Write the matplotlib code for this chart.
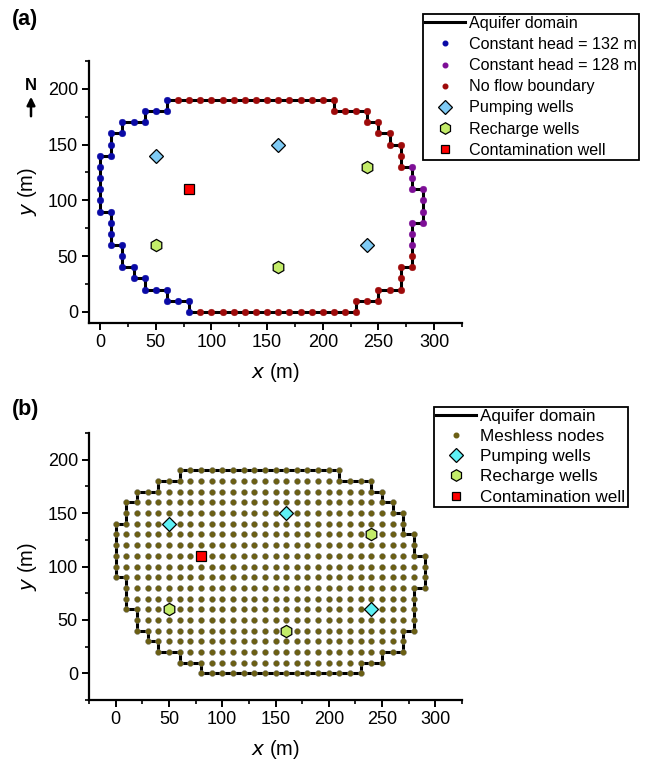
import numpy as np
import matplotlib
matplotlib.use('Agg')
import matplotlib.pyplot as plt
from matplotlib.lines import Line2D
from matplotlib.ticker import MultipleLocator

plt.rcParams['font.family'] = ['Liberation Sans', 'DejaVu Sans']

# ---------------- data ----------------
# boundary nodes, in order along the aquifer boundary
blue_x = [80, 80, 70, 60, 60, 50, 40, 40, 30, 30, 20, 20, 20, 10, 10, 10, 10, 0, 0, 0, 0, 0, 0,
          10, 10, 10, 20, 20, 30, 40, 40, 50, 60, 60]
blue_y = [0, 10, 10, 10, 20, 20, 20, 30, 30, 40, 40, 50, 60, 60, 70, 80, 90, 90, 100, 110, 120, 130, 140,
          140, 150, 160, 160, 170, 170, 170, 180, 180, 180, 190]
red_top_x = [70, 80, 90, 100, 110, 120, 130, 140, 150, 160, 170, 180, 190, 200, 210,
             210, 220, 230, 240, 240, 250, 250, 260, 260, 270, 270, 270]
red_top_y = [190, 190, 190, 190, 190, 190, 190, 190, 190, 190, 190, 190, 190, 190, 190,
             180, 180, 180, 180, 170, 170, 160, 160, 150, 150, 140, 130]
purple_x = [280, 280, 280, 290, 290, 290, 290, 280, 280, 280]
purple_y = [130, 120, 110, 110, 100, 90, 80, 80, 70, 60]
red_bot_x = [280, 280, 270, 270, 270, 260, 250, 250, 240, 230, 230,
             220, 210, 200, 190, 180, 170, 160, 150, 140, 130, 120, 110, 100, 90]
red_bot_y = [50, 40, 40, 30, 20, 20, 20, 10, 10, 10, 0,
             0, 0, 0, 0, 0, 0, 0, 0, 0, 0, 0, 0, 0, 0]

# meshless node rows: y level and x extent of each row (10 m spacing)
mesh_y = [0, 10, 20, 30, 40, 50, 60, 70, 80, 90, 100, 110, 120, 130, 140, 150, 160, 170, 180, 190]
mesh_xmin = [80, 60, 40, 30, 20, 20, 10, 10, 10, 0, 0, 0, 0, 0, 0, 10, 10, 20, 40, 60]
mesh_xmax = [230, 250, 270, 270, 280, 280, 280, 280, 290, 290, 290, 290, 280, 280, 270, 270, 260, 250, 240, 210]
mesh_step = 10

# wells
pump_x = [50, 160, 240]
pump_y = [140, 150, 60]
rech_x = [50, 160, 240]
rech_y = [60, 40, 130]
cont_x = [80]
cont_y = [110]

# ---------------- styles ----------------
C_BLUE = '#0a0aa6'
C_PURPLE = '#7d0e96'
C_RED = '#9e0a0a'
C_PUMP_A = '#7fcbf5'
C_PUMP_B = '#5ef0f5'
C_RECH = '#c3ec69'
C_CONT = '#ff0000'
C_NODE = '#6b5f14'

W, H = 645, 768
fig = plt.figure(figsize=(W / 100, H / 100), dpi=100)


def px_axes(l, t, r, b):
    return fig.add_axes([l / W, 1 - b / H, (r - l) / W, (b - t) / H])


def style_axes(ax, xlim, ylim):
    ax.set_xlim(*xlim)
    ax.set_ylim(*ylim)
    for s in ['top', 'right']:
        ax.spines[s].set_visible(False)
    for s in ['left', 'bottom']:
        ax.spines[s].set_linewidth(1.6)
    ax.xaxis.set_major_locator(MultipleLocator(50))
    ax.xaxis.set_minor_locator(MultipleLocator(25))
    ax.yaxis.set_major_locator(MultipleLocator(50))
    ax.yaxis.set_minor_locator(MultipleLocator(25))
    ax.tick_params(which='major', direction='out', length=5, width=1.4, labelsize=13, pad=3)
    ax.tick_params(which='minor', direction='out', length=3, width=1.2)
    ax.set_xlabel(r'$\mathit{x}$ (m)', fontsize=14.5, labelpad=7)
    ax.set_ylabel(r'$\mathit{y}$ (m)', fontsize=14.5, labelpad=6)


bx = blue_x + red_top_x + purple_x + red_bot_x + [blue_x[0]]
by = blue_y + red_top_y + purple_y + red_bot_y + [blue_y[0]]

LEG_KW = dict(loc='upper left', bbox_transform=fig.transFigure, frameon=True,
              fancybox=False, edgecolor='black', framealpha=1, borderpad=0.12,
              handletextpad=0.25, borderaxespad=0)

# ---------------- panel (a) ----------------
axa = px_axes(89, 61, 462, 323)
style_axes(axa, (-10, 325), (-10, 225))
axa.plot(bx, by, color='black', lw=2.2, zorder=2)
axa.plot(blue_x, blue_y, 'o', ms=4.8, color=C_BLUE, mec=C_BLUE, mew=0.3, ls='none', zorder=3)
axa.plot(purple_x, purple_y, 'o', ms=4.8, color=C_PURPLE, mec=C_PURPLE, mew=0.3, ls='none', zorder=3)
axa.plot(red_top_x + red_bot_x, red_top_y + red_bot_y, 'o', ms=4.8, color=C_RED, mec=C_RED,
         mew=0.3, ls='none', zorder=3)
axa.plot(pump_x, pump_y, 'D', ms=7.3, color=C_PUMP_A, mec='black', mew=0.9, ls='none', zorder=4)
axa.plot(rech_x, rech_y, 'h', ms=8.8, color=C_RECH, mec='black', mew=0.9, ls='none', zorder=4)
axa.plot(cont_x, cont_y, 's', ms=6.5, color=C_CONT, mec='black', mew=0.9, ls='none', zorder=4)

handles_a = [
    Line2D([], [], color='black', lw=2.2),
    Line2D([], [], marker='o', ls='none', ms=3.3, color=C_BLUE),
    Line2D([], [], marker='o', ls='none', ms=3.3, color=C_PURPLE),
    Line2D([], [], marker='o', ls='none', ms=3.3, color=C_RED),
    Line2D([], [], marker='D', ls='none', ms=6.8, color=C_PUMP_A, mec='black', mew=0.9),
    Line2D([], [], marker='h', ls='none', ms=8.3, color=C_RECH, mec='black', mew=0.9),
    Line2D([], [], marker='s', ls='none', ms=6.3, color=C_CONT, mec='black', mew=0.9),
]
labels_a = ['Aquifer domain', 'Constant head = 132 m', 'Constant head = 128 m',
            'No flow boundary', 'Pumping wells', 'Recharge wells', 'Contamination well']
leg_a = fig.legend(handles_a, labels_a, bbox_to_anchor=(423 / W, 1 - 14 / H), fontsize=11.6,
                   labelspacing=0.38, handlelength=2.5, **LEG_KW)
leg_a.get_frame().set_linewidth(1.3)

fig.text(12 / W, 1 - 20 / H, '(a)', fontsize=15.5, fontweight='bold', va='center', ha='left')
# north arrow
fig.text(31 / W, 1 - 86 / H, 'N', fontsize=12, fontweight='bold', ha='center', va='center')
fig.add_artist(matplotlib.patches.FancyArrowPatch((31 / W, 1 - 119 / H), (31 / W, 1 - 94 / H),
                                                  transform=fig.transFigure, arrowstyle='-|>',
                                                  mutation_scale=12, lw=1.8, color='black'))

# ---------------- panel (b) ----------------
axb = px_axes(89, 433, 462, 700)
style_axes(axb, (-25, 325), (-25, 225))
axb.plot(bx, by, color='black', lw=2.2, zorder=2)
node_x, node_y = [], []
for yv, x0, x1 in zip(mesh_y, mesh_xmin, mesh_xmax):
    xs = np.arange(x0, x1 + mesh_step / 2, mesh_step)
    node_x.extend(xs)
    node_y.extend([yv] * len(xs))
axb.plot(node_x, node_y, 'o', ms=4.3, color=C_NODE, mec='#808080', mew=0.3, ls='none', zorder=3)
axb.plot(pump_x, pump_y, 'D', ms=7.3, color=C_PUMP_B, mec='black', mew=0.9, ls='none', zorder=4)
axb.plot(rech_x, rech_y, 'h', ms=8.8, color=C_RECH, mec='black', mew=0.9, ls='none', zorder=4)
axb.plot(cont_x, cont_y, 's', ms=6.5, color=C_CONT, mec='black', mew=0.9, ls='none', zorder=4)

handles_b = [
    Line2D([], [], color='black', lw=2.2),
    Line2D([], [], marker='o', ls='none', ms=3.3, color=C_NODE),
    Line2D([], [], marker='D', ls='none', ms=6.8, color=C_PUMP_B, mec='black', mew=0.9),
    Line2D([], [], marker='h', ls='none', ms=8.3, color=C_RECH, mec='black', mew=0.9),
    Line2D([], [], marker='s', ls='none', ms=6.3, color=C_CONT, mec='black', mew=0.9),
]
labels_b = ['Aquifer domain', 'Meshless nodes', 'Pumping wells', 'Recharge wells', 'Contamination well']
leg_b = fig.legend(handles_b, labels_b, bbox_to_anchor=(434 / W, 1 - 407 / H), fontsize=12.3,
                   labelspacing=0.3, handlelength=2.35, **LEG_KW)
leg_b.get_frame().set_linewidth(1.3)

fig.text(12 / W, 1 - 410 / H, '(b)', fontsize=15.5, fontweight='bold', va='center', ha='left')

fig.savefig('out.png', dpi=100)
